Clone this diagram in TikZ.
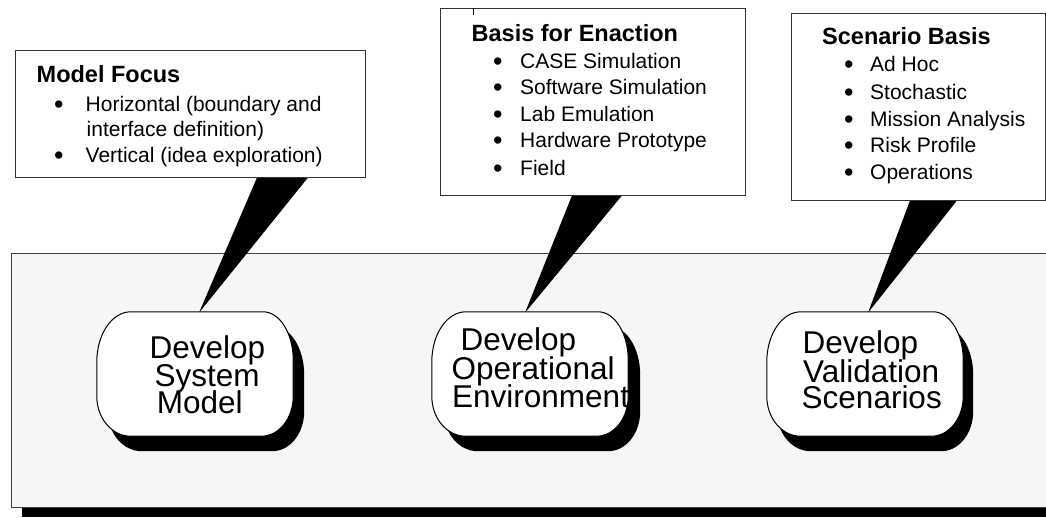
\documentclass[tikz,border=0pt]{standalone}
\usepackage{fontspec}
\setmainfont{Liberation Sans}
\usetikzlibrary{calc}
\definecolor{panelgray}{HTML}{F6F6F6}
% #1 options, #2 node, #3 dx, #4 dy (picture units)
\newcommand{\mybub}[4]{%
 \path[#1] let \p1=($(#2.north west)+(#3,#4)$), \p2=($(#2.south east)+(#3,#4)$) in
 (\x1+34pt,\y1) -- (\x2-30pt,\y1)
 .. controls (\x2-13.4pt,\y1) and (\x2,\y1-22pt) .. (\x2,\y1-48pt)
 -- (\x2,\y2+40pt)
 .. controls (\x2,\y2+18pt) and (\x2-14pt,\y2) .. (\x2-32pt,\y2)
 -- (\x1+34pt,\y2)
 .. controls (\x1+15pt,\y2) and (\x1,\y2+18pt) .. (\x1,\y2+40pt)
 -- (\x1,\y1-50pt)
 .. controls (\x1,\y1-22.4pt) and (\x1+15.2pt,\y1) .. (\x1+34pt,\y1) -- cycle;}
\newcommand{\bul}[1]{\makebox[#1][l]{\raisebox{-2pt}{\fontsize{27}{25}\selectfont\textbullet}}}
\begin{document}
\begin{tikzpicture}[x=1pt,y=-1pt,
  panel/.style={draw=black!75, line width=1pt, fill=panelgray, inner sep=0pt},
  callout/.style={draw=black!80, line width=1pt, fill=white, inner sep=0pt},
  bubblebox/.style={inner sep=0pt, minimum width=196pt, minimum height=124pt},
  wedge/.style={fill=black},
  head/.style={inner sep=0pt, anchor=base west, font=\fontsize{23.5}{26}\selectfont\bfseries},
  item/.style={inner sep=0pt, anchor=base west, font=\fontsize{21}{25}\selectfont},
  btext/.style={inner sep=0pt, anchor=base west, font=\fontsize{31.5}{27.5}\selectfont}]
\useasboundingbox (0,0) rectangle (1046,517);
\clip (0,0) rectangle (1046,517);
% panel with shadow
\fill[black] (22,264) rectangle (1060,517);
\node[panel, minimum width=1039pt, minimum height=254pt] (panel) at (530.5,380) {};
% bubble anchors
\node[bubblebox] (b1) at (195,374) {};
\node[bubblebox] (b2) at (530,374) {};
\node[bubblebox] (b3) at (865,374) {};
% callout boxes (positions)
\node[callout, draw=none, fill=none, minimum width=350pt, minimum height=127pt] (m1) at (190,113.5) {};
\node[callout, draw=none, fill=none, minimum width=305pt, minimum height=187pt] (m2) at (592.5,101.5) {};
\node[callout, draw=none, fill=none, minimum width=254pt, minimum height=187pt] (m3) at (918,106.5) {};
% wedges
\fill[wedge] ([xshift=67pt]m1.south) -- ([xshift=118pt]m1.south) -- ([xshift=4pt,yshift=-1pt]b1.north) -- cycle;
\fill[wedge] ([xshift=-20.5pt]m2.south) -- ([xshift=29.5pt]m2.south) -- ([xshift=-5pt,yshift=-1pt]b2.north) -- cycle;
\fill[wedge] ([xshift=-8pt]m3.south) -- ([xshift=39pt]m3.south) -- ([xshift=3pt,yshift=-1pt]b3.north) -- cycle;
% callout boxes drawn
\node[callout, minimum width=350pt, minimum height=127pt] at (m1) {};
\node[callout, minimum width=305pt, minimum height=187pt] at (m2) {};
\node[callout, minimum width=254pt, minimum height=187pt] at (m3) {};
\draw[black, line width=0.8pt] ([xshift=-119.5pt]m2.north) -- ++(0,7);
% box 1 text
\node[head] (h1) at (36.5,82) {Model Focus};
\node[item] (i11) at (54,111.7) {\bul{31.5pt}Horizontal (boundary and};
\node[item] (i12) at (86.5,136.7) {interface definition)};
\node[item] (i13) at (54,162.7) {\bul{31.5pt}Vertical (idea exploration)};
% box 2 text
\node[head] (h2) at (471.5,41) {Basis for Enaction};
\node[item] (i21) at (493,68.3) {\bul{27pt}CASE Simulation};
\node[item] (i22) at (493,94.3) {\bul{27pt}Software Simulation};
\node[item] (i23) at (493,121) {\bul{27pt}Lab Emulation};
\node[item] (i24) at (493,147.7) {\bul{27pt}Hardware Prototype};
\node[item] (i25) at (493,175) {\bul{27pt}Field};
% box 3 text
\node[head] (h3) at (822,44) {Scenario Basis};
\node[item] (i31) at (844,71.7) {\bul{26pt}Ad Hoc};
\node[item] (i32) at (844,99) {\bul{26pt}Stochastic};
\node[item] (i33) at (844,126) {\bul{26pt}Mission Analysis};
\node[item] (i34) at (844,152.7) {\bul{26pt}Risk Profile};
\node[item] (i35) at (844,179.3) {\bul{26pt}Operations};
% bubbles: shadows then faces
\mybub{fill=black}{b1}{11}{15}
\mybub{fill=black}{b2}{12}{15}
\mybub{fill=black}{b3}{10}{15}
\mybub{draw=black, line width=1pt, fill=white}{b1}{0}{0}
\mybub{draw=black, line width=1pt, fill=white}{b2}{0}{0}
\mybub{draw=black, line width=1pt, fill=white}{b3}{0}{0}
\begin{scope}
\mybub{clip}{b1}{0}{0}
\node[btext] (t11) at (149.5,358) {Develop};
\node[btext] (t12) at (154.5,386) {System};
\node[btext] (t13) at (156.7,413) {Model};
\end{scope}
\begin{scope}
\mybub{clip}{b2}{0}{0}
\node[btext] (t21) at (460.5,350) {Develop};
\node[btext] (t22) at (451.5,379) {Operational};
\node[btext] (t23) at (452,407) {Environment};
\end{scope}
\begin{scope}
\mybub{clip}{b3}{0}{0}
\node[btext] (t31) at (802.5,353) {Develop};
\node[btext] (t32) at (803,382) {Validation};
\node[btext] (t33) at (801.5,408) {Scenarios};
\end{scope}
\end{tikzpicture}
\end{document}
